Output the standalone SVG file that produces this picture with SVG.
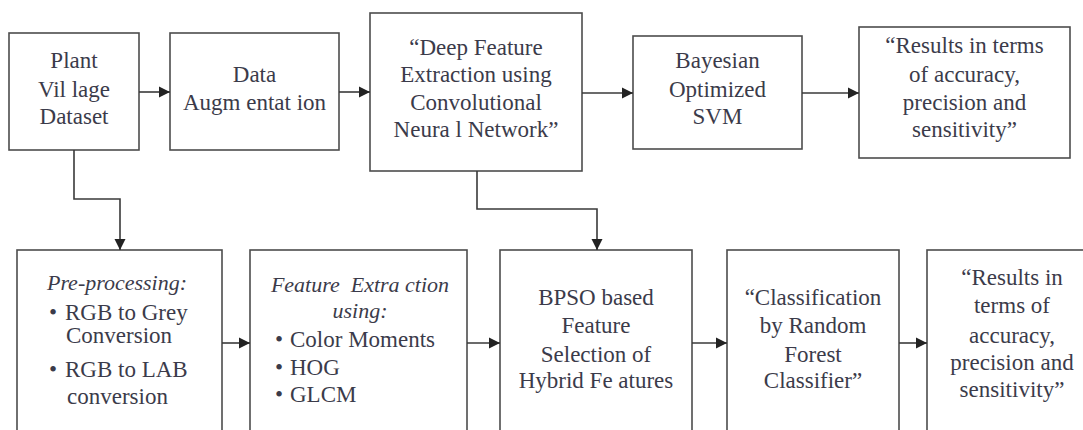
<svg xmlns="http://www.w3.org/2000/svg" width="1083" height="430" viewBox="0 0 1083 430" font-family="Liberation Serif, Tinos, DejaVu Serif, Noto Serif, FreeSerif, serif">
  <style>
    .t { text-anchor: middle; font-size: 23px; fill: #3b3b4a; }
    .tl { font-size: 23px; fill: #3b3b4a; }
    .it { font-style: italic; font-size: 22px; white-space: pre; }
    .box { fill: #ffffff; stroke: #4d4d4d; stroke-width: 1.6; }
    .wire { fill: none; stroke: #3a3a3a; stroke-width: 1.6; }
  </style>
  <defs>
    <marker id="arrow" markerUnits="userSpaceOnUse" markerWidth="12" markerHeight="12" refX="11" refY="6" orient="auto">
      <path d="M0,0.5 L11,6 L0,11.5 z" fill="#222222"/>
    </marker>
  </defs>
  <rect width="1083" height="430" fill="#ffffff"/>

  <!-- top row -->
  <g id="plant-village">
    <rect class="box" x="9" y="33" width="130" height="117"/>
    <text class="t" x="74" y="68">Plant</text>
    <text class="t" x="74" y="97">Vil lage</text>
    <text class="t" x="74" y="124">Dataset</text>
  </g>
  <g id="data-augmentation">
    <rect class="box" x="170" y="33" width="169" height="117"/>
    <text class="t" x="254.5" y="82">Data</text>
    <text class="t" x="254.5" y="110">Augm entat ion</text>
  </g>
  <g id="deep-feature-cnn">
    <rect class="box" x="370" y="13" width="212" height="158"/>
    <text class="t" x="476" y="55">“Deep Feature</text>
    <text class="t" x="476" y="82">Extraction using</text>
    <text class="t" x="476" y="110">Convolutional</text>
    <text class="t" x="476" y="137">Neura l Network”</text>
  </g>
  <g id="bayesian-svm">
    <rect class="box" x="633" y="36" width="169" height="113"/>
    <text class="t" x="717.5" y="68">Bayesian</text>
    <text class="t" x="717.5" y="97">Optimized</text>
    <text class="t" x="717.5" y="124">SVM</text>
  </g>
  <g id="results-top">
    <rect class="box" x="859" y="27" width="211" height="131"/>
    <text class="t" x="964.5" y="53">“Results in terms</text>
    <text class="t" x="964.5" y="82">of accuracy,</text>
    <text class="t" x="964.5" y="110">precision and</text>
    <text class="t" x="964.5" y="137">sensitivity”</text>
  </g>

  <!-- bottom row -->
  <g id="pre-processing">
    <rect class="box" x="17" y="250" width="205" height="200"/>
    <text class="t it" x="117" y="290">Pre-processing:</text>
    <text class="tl" x="49" y="320">•</text>
    <text class="tl" x="65" y="320">RGB to Grey</text>
    <text class="tl" x="66" y="343">Conversion</text>
    <text class="tl" x="49" y="377">•</text>
    <text class="tl" x="65" y="377">RGB to LAB</text>
    <text class="tl" x="67" y="404">conversion</text>
  </g>
  <g id="feature-extraction">
    <rect class="box" x="250" y="250" width="217" height="200"/>
    <text class="t it" x="360" y="292">Feature  Extra ction</text>
    <text class="t it" x="360" y="318">using:</text>
    <text class="tl" x="275" y="347">•</text>
    <text class="tl" x="290" y="347">Color Moments</text>
    <text class="tl" x="275" y="375">•</text>
    <text class="tl" x="290" y="375">HOG</text>
    <text class="tl" x="275" y="402">•</text>
    <text class="tl" x="290" y="402">GLCM</text>
  </g>
  <g id="bpso-selection">
    <rect class="box" x="500" y="250" width="192" height="200"/>
    <text class="t" x="596" y="305">BPSO based</text>
    <text class="t" x="596" y="333">Feature</text>
    <text class="t" x="596" y="362">Selection of</text>
    <text class="t" x="596" y="388">Hybrid Fe atures</text>
  </g>
  <g id="random-forest">
    <rect class="box" x="727" y="250" width="172" height="200"/>
    <text class="t" x="813" y="305">“Classification</text>
    <text class="t" x="813" y="333">by Random</text>
    <text class="t" x="813" y="362">Forest</text>
    <text class="t" x="813" y="388">Classifier”</text>
  </g>
  <g id="results-bottom">
    <rect class="box" x="927" y="250" width="170" height="200"/>
    <text class="t" x="1012" y="285">“Results in</text>
    <text class="t" x="1012" y="313">terms of</text>
    <text class="t" x="1012" y="343">accuracy,</text>
    <text class="t" x="1012" y="370">precision and</text>
    <text class="t" x="1012" y="397">sensitivity”</text>
  </g>

  <!-- connectors -->
  <g id="connectors">
    <line class="wire" x1="139" y1="92" x2="170" y2="92" marker-end="url(#arrow)"/>
    <line class="wire" x1="339" y1="92" x2="370" y2="92" marker-end="url(#arrow)"/>
    <line class="wire" x1="582" y1="93" x2="633" y2="93" marker-end="url(#arrow)"/>
    <line class="wire" x1="802" y1="93" x2="859" y2="93" marker-end="url(#arrow)"/>
    <polyline class="wire" points="74,150 74,199 120,199 120,250" marker-end="url(#arrow)"/>
    <polyline class="wire" points="477,171 477,209 597,209 597,250" marker-end="url(#arrow)"/>
    <line class="wire" x1="222" y1="343" x2="250" y2="343" marker-end="url(#arrow)"/>
    <line class="wire" x1="467" y1="343" x2="500" y2="343" marker-end="url(#arrow)"/>
    <line class="wire" x1="692" y1="343" x2="727" y2="343" marker-end="url(#arrow)"/>
    <line class="wire" x1="899" y1="343" x2="927" y2="343" marker-end="url(#arrow)"/>
  </g>
</svg>
